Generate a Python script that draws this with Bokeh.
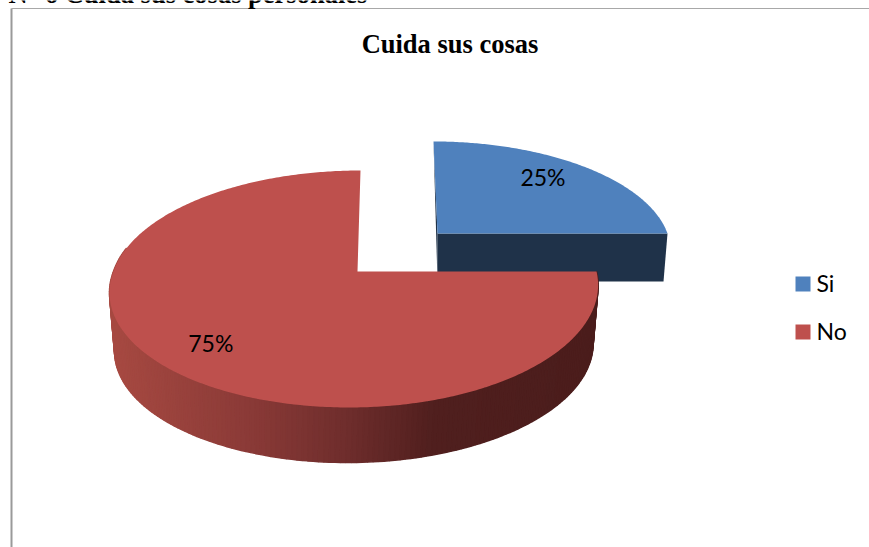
import math
from bokeh.plotting import figure
from bokeh.models import Range1d
from bokeh.core.properties import value
from bokeh.embed import file_html
from bokeh.resources import INLINE

# ---- data
categories = ["Si", "No"]
values = [25, 75]
labels = ["25%", "75%"]
title = "Cuida sus cosas"
heading = "N° 6 Cuida sus cosas personales"

# ---- style / geometry
BLUE, RED, BLUE_DARK = "#4F81BD", "#BE504D", "#1F3249"
K = 0.1476
W, H = 869, 547
LABEL_F = [(0.73, 0.84), (0.74, 0.78)]

p = figure(width=W, height=H, x_range=Range1d(0, W), y_range=Range1d(H, 0),
           output_backend="svg", toolbar_location=None, min_border=0)
p.xaxis.visible = False
p.yaxis.visible = False
p.grid.visible = False
p.outline_line_color = None
p.background_fill_color = "white"


def proj(t, cx, cy, rxr, rxl, ry, sh_top=0.0, sh_bot=0.0, f=(1.0, 1.0)):
    u, v = math.cos(t), math.sin(t)
    w = 1 / (1 + K * v)
    rx = rxr if u >= 0 else rxl
    sh = sh_top * v if v >= 0 else sh_bot * v
    return cx + f[0] * (rx * u * w + sh), cy - f[1] * ry * v * w


def sweep(a0, a1, n=160):
    return [a0 + (a1 - a0) * i / n for i in range(n + 1)]


def mix(c0, c1, f):
    return tuple(c0[i] + (c1[i] - c0[i]) * f for i in range(3))


STOPS = [(105, (168, 74, 66)), (250, (138, 58, 55)), (350, (110, 45, 44)),
         (435, (80, 31, 30)), (600, (75, 29, 28))]


def side_color(x):
    for (x0, c0), (x1, c1) in zip(STOPS, STOPS[1:]):
        if x <= x1:
            c = mix(c0, c1, max(0, (x - x0) / (x1 - x0)))
            return "#%02x%02x%02x" % tuple(int(round(q)) for q in c)
    return "#4b1d1c"


# Angles of the slices come from the values, clockwise from 12 o'clock
total = sum(values)
spans = [v / total * 2 * math.pi for v in values]
start = math.pi / 2
blue_a = (start, start - spans[0])
red_a = (start - spans[0], start - spans[0] - spans[1])

BP = dict(cx=437, cy=233, rxr=230, rxl=230, ry=105.6, sh_top=-4)
RP = dict(cx=357, cy=271, rxr=239, rxl=244, ry=115.9, sh_top=3, sh_bot=8)
RB = dict(cx=355, cy=330, rxr=236, rxl=237, ry=112.5, sh_top=3, sh_bot=8)

# page frame
p.line([11, 11], [8, H], line_color="#9a9a9a", line_width=2)
p.line([11, W], [8, 8], line_color="#a8a8a8", line_width=1)
p.text([8], [-7], text=[heading], text_font=value("Liberation Serif"),
       text_font_style="bold", text_font_size="26.5px", text_color="#000000",
       text_baseline="alphabetic", text_align="left")
p.text([449.5], [43], text=[title], text_font=value("Liberation Serif"),
       text_font_style="bold", text_font_size="26.5px", text_color="#000000",
       text_baseline="middle", text_align="center")

# blue slice: side then top
bt = [proj(t, **BP) for t in sweep(*blue_a)]
bx, by = zip(*bt)
p.patch([433, 437, 437], [by[0], 233, 281], fill_color=BLUE_DARK, line_color=None)
p.patch([437, bx[-1], bx[-1] - 4, 437], [233, 233, 281, 281], fill_color=BLUE_DARK, line_color=None)
p.patch([BP["cx"], *bx], [BP["cy"], *by], fill_color=BLUE, line_color=None)

# red slice: gradient side then top
a_side = sweep(math.radians(168), math.radians(360), 170)
xs, ys, cs = [], [], []
for t0, t1 in zip(a_side, a_side[1:]):
    x0, y0 = proj(t0, **RP)
    x1, y1 = proj(t1, **RP)
    x2, y2 = proj(t1, **RB)
    x3, y3 = proj(t0, **RB)
    xs.append([x0, x1, x2, x3])
    ys.append([y0, y1, y2, y3])
    cs.append(side_color((x0 + x1) / 2))
p.patches(xs, ys, fill_color=cs, line_color=cs, line_width=1.5)

rt = [proj(t, **RP) for t in sweep(*red_a, n=400)]
rx, ry = zip(*rt)
p.patch([RP["cx"], *rx], [RP["cy"], *ry], fill_color=RED, line_color=None)

# value labels at the mid-angle of every slice
a_mid = [(blue_a[0] + blue_a[1]) / 2, (red_a[0] + red_a[1]) / 2]
for lab, a, f, geo in zip(labels, a_mid, LABEL_F, (BP, RP)):
    lx, ly = proj(a, f=f, **geo)
    p.text([lx], [ly], text=[lab], text_font=value("Lato"), text_font_size="23px",
           text_color="#000000", text_align="center", text_baseline="middle")

# legend
for i, (cat, col) in enumerate(zip(categories, (BLUE, RED))):
    y = 283.5 + i * 48
    p.scatter([802.5], [y], marker="square", size=15, fill_color=col, line_color=None)
    p.text([816], [y - 1], text=[cat], text_font=value("Lato"), text_font_size="23px",
           text_color="#000000", text_align="left", text_baseline="middle")

open("out.html", "w").write(file_html(p, INLINE))
